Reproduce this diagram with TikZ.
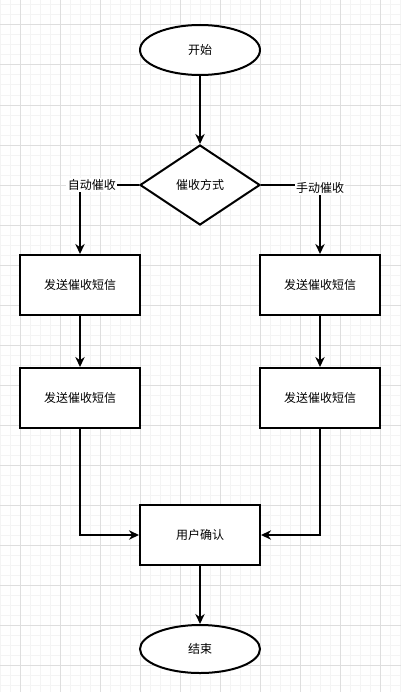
\documentclass[tikz,border=0pt]{standalone}
\usepackage{fontspec}
\setmainfont{Noto Sans CJK SC}
\usetikzlibrary{arrows.meta}
\usetikzlibrary{shapes.geometric}
\definecolor{gridminor}{HTML}{F4F4F4}
\definecolor{gridmajor}{HTML}{DEDEDE}
\tikzset{flow/.style = {line width=1.5pt,
                        -{Stealth[length=7.5pt,width=7pt,inset=2.4pt]}},
         terminal/.style = {draw, line width=1.5pt, ellipse, fill=white,
                            minimum width=90pt, minimum height=37.5pt, inner sep=0pt},
         decision/.style = {draw, line width=1.5pt, diamond, fill=white,
                            minimum width=90pt, minimum height=60pt, inner sep=0pt},
         process/.style = {draw, line width=1.5pt, rectangle, fill=white,
                           minimum width=90pt, minimum height=45pt, inner sep=0pt},
         edgelabel/.style = {fill=white, inner sep=1pt}}

\begin{document}
\begin{tikzpicture}[x=0.75pt, y=-0.75pt, font=\fontsize{9}{11}\selectfont]
  \useasboundingbox[fill=white] (0,0) rectangle (401,692);
  \foreach \x in {0,10,...,400} \draw[gridminor, line width=0.75pt] (\x,0)--(\x,692);
  \foreach \y in {5,15,...,685} \draw[gridminor, line width=0.75pt] (0,\y)--(401,\y);
  \foreach \x in {20,60,...,380} \draw[gridmajor, line width=0.75pt] (\x,0)--(\x,692);
  \foreach \y in {25,65,...,665} \draw[gridmajor, line width=0.75pt] (0,\y)--(401,\y);

  \node[terminal] (start) at (200,50) {开始};
  \node[decision] (way) at (200,185) {催收方式};
  \node[process] (L1) at (80,285) {发送催收短信};
  \node[process] (L2) at (80,398) {发送催收短信};
  \node[process] (R1) at (320,285) {发送催收短信};
  \node[process] (R2) at (320,398) {发送催收短信};
  \node[process] (ok) at (200,535) {用户确认};
  \node[terminal, minimum height=36pt] (stop) at (200,649) {结束};

  \draw[flow] (start) -- (way);
  \draw[flow] (way) -| node[edgelabel, pos=0.4] {自动催收} (L1);
  \draw[flow] (way) -| node[edgelabel, pos=0.5, yshift=-2pt] {手动催收} (R1);
  \draw[flow] (L1) -- (L2);
  \draw[flow] (R1) -- (R2);
  \draw[flow] (L2) |- (ok);
  \draw[flow] (R2) |- (ok);
  \draw[flow] (ok) -- (stop);
\end{tikzpicture}
\end{document}
